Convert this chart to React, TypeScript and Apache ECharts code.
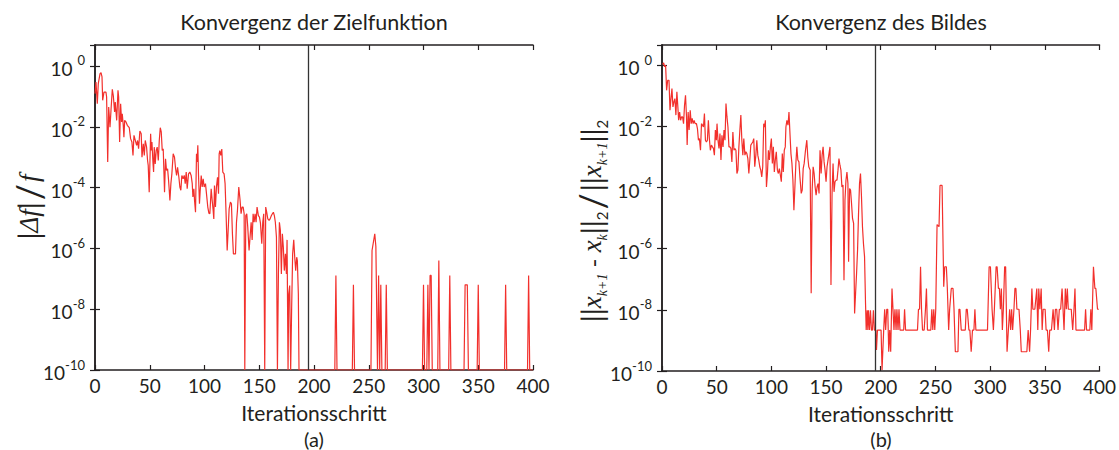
import React, { useEffect, useRef } from "react";
import * as echarts from "echarts";

// ---------- data ----------
const titles = ["Konvergenz der Zielfunktion", "Konvergenz des Bildes"];
const xAxisName = "Iterationsschritt";
const panelTags = ["(a)", "(b)"];
const cutIteration = 195;

// left panel: iteration and log10(|Δf|/f); -10 marks values at/below the axis floor
const leftIter = [
  0, 0.9, 2.1, 3, 4.6, 5.5, 6.4, 7, 8.2, 10, 10.6, 11.6, 12.5, 13.7, 14.6, 15.8, 16.7, 17.9, 18.5, 19.8,
  21, 21.6, 22.5, 23.4, 24.3, 24.9, 25.8, 26.4, 27.1, 28.3, 29.5, 31.3, 32.5, 33.7, 34.7, 35.6, 36.8, 38, 38.9, 39.8,
  41, 42.2, 42.9, 44.1, 45, 45.9, 47.1, 48, 48.6, 49.5, 50.8, 51.4, 52, 52.9, 53.5, 54.1, 55, 55.9, 56.8, 57.8,
  58.7, 59.6, 60.5, 61.4, 62.3, 63.5, 64.4, 65.3, 66.3, 67.2, 67.8, 68.4, 69.3, 70.2, 71.4, 72.6, 73.6, 74.5, 75.4, 76.6,
  77.5, 78.4, 79.3, 80.5, 81.5, 82.4, 83.3, 84.2, 85.4, 86.6, 87.8, 88.8, 89.4, 90.3, 90.9, 91.8, 92.7, 93.3, 93.9, 94.5,
  95.4, 96, 97, 97.9, 98.8, 99.7, 100.9, 101.8, 103, 104, 104.9, 106.1, 107, 107.9, 108.5, 109.1, 110, 110.9, 111.9, 112.8,
  113.4, 114, 114.9, 115.8, 116.7, 117.9, 118.8, 119.8, 120.7, 121.6, 122.5, 123.7, 124.6, 125.5, 126.4, 128.3, 129.2, 130.1, 131.3, 132.5,
  133.4, 134.3, 135.3, 136.2, 136.8, 137.7, 138.6, 139.5, 140.7, 141.6, 142.6, 143.5, 144.4, 145.3, 146.2, 147.1, 148, 149.2, 150.2, 151.1,
  152.3, 153.2, 154.1, 155, 155.9, 156.8, 157.8, 159, 159.9, 161.1, 162, 162.9, 163.8, 164.7, 165.7, 166.6, 167.5, 168.4, 169.3, 170.2,
  171.1, 172, 172.9, 173.9, 174.8, 175.4, 176.3, 176.9, 177.8, 178.7, 179.6, 180.5, 181.5, 182.4, 183.3, 184.2, 184.8, 185.7, 186.3,
  219, 220, 221, 235, 236, 237, 252, 253, 255.5, 256.5, 257, 258, 259, 260, 261, 262, 265, 266, 267,
  299, 300, 301, 303, 304, 305, 306, 307, 308, 313, 314, 315, 323, 324, 325, 337, 338, 340, 341,
  349, 350, 351, 374, 375, 376, 395, 396, 397, 400,
];
const leftExp = [
  -0.91, -0.53, -1.24, -0.58, -0.25, -0.22, -0.36, -1.13, -0.86, -0.86, -1.02, -3.16, -1.35, -2.01, -1.46, -0.77, -0.97, -1.51, -1.19, -1.79,
  -0.8, -1.02, -2.5, -1.24, -1.84, -1.57, -1.95, -2.34, -1.79, -1.84, -1.95, -2.03, -2.39, -2.5, -2.94, -2.28, -2.45, -2.61, -2.45, -2.72,
  -2.14, -2.23, -3.0, -2.56, -2.94, -2.45, -2.67, -3.11, -3.27, -4.15, -2.23, -2.78, -2.5, -3.16, -3.49, -2.67, -3.22, -2.78, -2.67, -3.11,
  -2.45, -2.03, -2.17, -2.78, -2.72, -4.15, -3.05, -3.44, -3.38, -3.77, -4.09, -4.42, -3.87, -3.55, -2.89, -3.0, -3.38, -3.6, -3.33, -3.66,
  -3.98, -4.09, -3.6, -3.71, -3.6, -3.87, -3.49, -4.04, -3.55, -3.49, -3.6, -3.87, -4.31, -4.04, -4.42, -4.81, -2.89, -3.16, -2.61, -3.55,
  -4.53, -4.15, -3.6, -3.98, -3.71, -3.98, -3.87, -4.2, -4.64, -4.84, -4.86, -4.04, -4.42, -4.75, -5.03, -3.93, -4.64, -3.98, -3.66, -4.2,
  -2.89, -2.78, -2.94, -2.73, -3.49, -3.55, -3.87, -4.97, -6.07, -5.41, -4.7, -4.48, -4.53, -5.52, -6.18, -6.18, -5.14, -4.75, -3.98, -4.42,
  -4.86, -4.64, -4.64, -4.86, -10, -4.92, -4.86, -5.3, -6.07, -5.63, -5.14, -5.72, -4.86, -5.14, -4.86, -5.14, -4.64, -4.92, -4.97, -5.17,
  -5.85, -5.14, -4.86, -10, -4.64, -4.81, -5.03, -5.08, -5.03, -4.92, -4.86, -4.81, -4.92, -5.14, -5.63, -10, -6.84, -5.14, -5.41, -6.84,
  -5.52, -5.96, -6.73, -6.18, -6.84, -5.72, -10, -7.5, -7.22, -10, -7.94, -6.18, -5.72, -6.29, -6.73, -6.29, -6.4, -7.5, -10,
  -10, -6.89, -10, -10, -7.2, -10, -10, -6.07, -5.52, -5.94, -5.94, -10, -6.89, -10, -7.2, -10, -10, -7.2, -10,
  -10, -7.2, -10, -10, -7.2, -10, -6.89, -6.89, -10, -10, -6.4, -10, -10, -6.89, -10, -10, -7.2, -7.2, -10,
  -10, -7.2, -10, -10, -7.2, -10, -10, -6.89, -10, -10,
];

// right panel: iteration and log10(||x_{k+1}-x_k||_2 / ||x_{k+1}||_2)
const rightIter = [
  0.6, 1.5, 2.4, 3.3, 4.2, 5.2, 6.4, 7.3, 8.2, 9.1, 10, 10.9, 11.8, 12.7, 13.6, 14.5, 15.2, 16.1, 17, 17.9,
  18.8, 19.7, 20.6, 21.5, 22.4, 23, 23.9, 24.8, 25.8, 26.7, 27.6, 28.5, 29.4, 30.3, 31.5, 32.4, 33.3, 34.2, 35.2, 36.1,
  37, 37.9, 38.8, 39.7, 40.6, 41.5, 42.4, 43.3, 44.2, 45.2, 46.1, 47, 47.9, 48.8, 49.7, 50.3, 51.2, 52.1, 53, 53.9,
  54.8, 55.8, 56.7, 57.6, 58.5, 59.4, 60.3, 61.2, 62.1, 63, 63.9, 64.8, 65.8, 66.7, 67.6, 68.5, 69.4, 70.3, 71.2, 72.1,
  73, 73.9, 74.8, 75.8, 76.7, 77.6, 78.5, 79.4, 80.3, 81.2, 82.1, 83, 83.9, 84.8, 85.8, 86.7, 87.6, 88.5, 89.4, 90.3,
  91.2, 92.1, 93, 93.9, 94.5, 95.5, 96.4, 97.3, 98.2, 99.1, 100, 100.9, 101.8, 102.7, 103.6, 104.5, 105.5, 106.4, 107.3, 108.2,
  109.1, 110, 110.9, 111.8, 112.7, 113.3, 114.2, 115.2, 116.1, 117, 117.9, 118.8, 119.7, 120.6, 121.5, 122.4, 123.3, 124.2, 125.2, 126.1,
  127.3, 128.2, 129.1, 130, 131.2, 132.4, 133.3, 134.2, 135.5, 136.4, 137.3, 138.2, 139.1, 140, 140.9, 141.8, 142.7, 143.6, 144.5, 145.5,
  146.4, 147.3, 148.2, 149.1, 150, 150.9, 151.8, 152.7, 153.6, 154.5, 155.5, 156.4, 157.3, 158.2, 159.1, 160, 160.9, 161.8, 162.7, 163.6,
  164.5, 165.5, 166.4, 167.3, 168.2, 169.1, 170, 170.6, 171.5, 172.4, 173.3, 174.2, 175.2, 176.1, 177, 177.9, 178.8, 179.7, 180.6, 181.5,
  182.4, 183.3, 184.2, 185.2, 186.1, 186.7, 187.6, 188.2, 188.8, 189.7, 190.6, 191.5, 192.4, 193.3, 194.2, 195.5, 196.1, 197, 197.9, 200.3,
  201.2, 202.7, 203.6, 204.5, 205.5, 206.4, 207.3, 208.2, 209.1, 210.3, 211.2, 212.1, 213, 214, 214.8, 215.8, 216.7, 217.6, 221, 221.8,
  222.7, 233.6, 234.5, 235.5, 236.4, 237.3, 238.2, 239.7, 240.9, 241.8, 242.7, 245.8, 246.7, 247.6, 248.5, 249.4, 250.3, 251.5, 253.3, 254.2,
  256.1, 257.6, 258.5, 260, 260.9, 262.1, 263, 264.5, 266.1, 267, 268.2, 270.6, 271.5, 272.4, 273.6, 277.3, 278.2, 279.1, 280.6, 281.5,
  282.7, 283.9, 285.2, 286.1, 287, 297.6, 299.1, 300.3, 301.8, 303, 303.9, 305.5, 306.4, 307.6, 308.5, 309.4, 310.3, 311.2, 312.1, 313.3,
  314.2, 315.5, 316.7, 317.9, 318.8, 319.7, 320.6, 321.8, 322.7, 323.6, 324.5, 326.4, 327.6, 328.5, 333.6, 334.8, 336.1, 337, 338.2, 339.1,
  340.9, 342.7, 343.6, 344.5, 345.5, 346.7, 347.6, 348.5, 350.3, 351.2, 352.4, 353.6, 354.5, 356.1, 357.6, 358.8, 359.7, 360.9, 362.1, 363.3,
  364.5, 365.8, 366.7, 367.6, 368.8, 369.7, 370.6, 371.5, 374.2, 375.5, 376.7, 377.6, 378.5, 386.4, 387.3, 388.2, 391.2, 392.1, 393, 394.5,
  395.8, 396.7, 398.2, 399.4,
];
const rightExp = [
  0.03, 0.08, -0.05, 0, -0.82, -0.49, -0.49, -1.47, -1.09, -0.76, -1.36, -1.2, -1.09, -1.63, -0.87, -1.36, -1.8, -1.53, -1.8, -1.69,
  -1.69, -1.91, -1.31, -0.98, -1.69, -2.61, -1.53, -2.12, -1.47, -1.91, -1.74, -1.91, -1.8, -1.91, -1.91, -2.07, -2.45, -2.4, -2.78, -1.91,
  -1.96, -2.02, -1.58, -2.45, -2.51, -2.45, -1.8, -2.4, -2.78, -2.61, -2.67, -2.72, -2.94, -2.12, -2.45, -1.91, -2.45, -2.72, -2.23, -3.1,
  -2.29, -2.67, -2.12, -2.45, -1.25, -1.69, -2.02, -2.67, -2.67, -2.72, -3.16, -2.18, -2.78, -2.72, -2.78, -3.54, -3.43, -2.67, -2.12, -1.63,
  -2.45, -2.94, -2.4, -2.94, -2.83, -2.89, -3.05, -3.54, -3.1, -2.61, -2.56, -2.51, -2.4, -3.32, -2.94, -2.45, -2.94, -3.1, -3.32, -3.43,
  -3.65, -3.32, -1.91, -2.02, -1.8, -3.98, -3.54, -2.78, -3.1, -2.67, -2.4, -3.21, -2.67, -3.49, -3.1, -2.83, -3.43, -3.54, -3.38, -3.59,
  -3.81, -2.89, -3.49, -2.78, -2.67, -2.02, -1.8, -1.96, -1.53, -2.23, -2.89, -3.21, -3.76, -4.74, -3.98, -3.21, -2.67, -3.1, -3.16, -3.65,
  -4.19, -4.08, -3.38, -3.21, -2.78, -2.45, -3.0, -3.32, -3.43, -7.46, -4.08, -3.32, -3.54, -3.98, -4.25, -3.98, -3.87, -4.19, -2.78, -3.54,
  -2.94, -2.67, -3.16, -3.43, -3.81, -3.32, -3.1, -2.89, -2.67, -7.19, -4.19, -3.21, -4.14, -3.81, -3.76, -3.76, -3.43, -3.05, -3.27, -3.43,
  -3.98, -3.92, -7.03, -4.41, -3.76, -3.49, -3.87, -6.43, -4.03, -4.08, -4.52, -5.01, -5.17, -8.12, -7.46, -6.81, -6.05, -4.85, -3.87, -3.54,
  -4.3, -5.28, -5.83, -6.26, -7.79, -8.66, -8.01, -8.66, -8.01, -8.66, -8.01, -8.66, -8.66, -8.01, -8.66, -8.66, -9.31, -8.66, -8.66, -8.66,
  -9.97, -8.66, -7.98, -8.66, -7.98, -7.98, -9.37, -8.66, -9.37, -7.3, -7.98, -8.66, -7.98, -8.66, -7.98, -8.66, -7.98, -8.66, -8.66, -7.98,
  -8.66, -8.66, -7.98, -7.98, -6.59, -7.98, -8.66, -8.66, -7.98, -7.3, -8.66, -8.66, -7.98, -8.66, -7.98, -8.66, -7.98, -5.21, -5.28, -3.93,
  -3.93, -7.24, -6.59, -6.59, -7.3, -8.66, -7.98, -7.3, -7.3, -7.98, -9.37, -9.37, -7.98, -7.98, -8.66, -8.66, -7.98, -7.98, -8.66, -8.66,
  -9.37, -8.66, -8.66, -7.98, -8.66, -8.66, -6.59, -6.59, -7.98, -8.66, -7.98, -6.59, -6.59, -7.3, -7.3, -7.98, -7.3, -8.66, -7.98, -6.59,
  -6.59, -9.37, -8.66, -7.98, -8.66, -7.98, -8.66, -7.98, -7.3, -7.3, -7.98, -7.98, -8.66, -9.37, -9.37, -8.66, -9.37, -8.66, -7.3, -7.98,
  -7.98, -7.3, -8.66, -7.3, -7.98, -7.3, -8.66, -7.98, -7.98, -8.66, -8.66, -9.37, -8.66, -8.66, -7.98, -8.66, -7.98, -7.98, -8.66, -7.98,
  -7.98, -7.3, -7.98, -8.66, -7.3, -7.98, -7.3, -7.98, -7.98, -8.66, -7.98, -7.3, -8.66, -8.66, -7.98, -8.66, -8.66, -7.98, -8.66, -6.59,
  -7.3, -7.3, -7.98, -7.98,
];

// ---------- styling ----------
const FONT = "Lato, 'Open Sans', sans-serif";
const SERIF = "'Liberation Serif', 'DejaVu Serif', serif";
const TXT = "#231f20";
const RED = "#f2302c";
const AXIS = "#231f20";

const toPairs = (xs: number[], es: number[]) => xs.map((x, i) => [x, Math.pow(10, es[i])]);

const powLabel = (v: number) => {
  const e = Math.log10(v);
  const r = Math.round(e);
  if (Math.abs(e - r) > 1e-6) return "";
  return r === 0 ? `{n|10}{z|0}` : `{n|10}{s|${r}}`;
};

const tickRich = {
  n: { fontSize: 19, fontFamily: FONT, color: TXT, lineHeight: 24, verticalAlign: "bottom" },
  s: { fontSize: 13, fontFamily: FONT, color: TXT, lineHeight: 13, verticalAlign: "top" },
  z: { fontSize: 13, fontFamily: FONT, color: TXT, lineHeight: 13, verticalAlign: "top", padding: [0, 0, 0, 5] },
};

const xAx = (gridIndex: number, position: string, main: boolean) => ({
  type: "value",
  gridIndex,
  position,
  min: 0,
  max: 400,
  interval: 50,
  axisLine: { show: true, onZero: false, lineStyle: { color: AXIS, width: 1.5 } },
  axisTick: { show: true, inside: true, length: 5, lineStyle: { color: AXIS, width: 1.2 } },
  axisLabel: { show: main, fontSize: 19, fontFamily: FONT, color: TXT, margin: 6 },
  splitLine: { show: false },
  name: main ? xAxisName : "",
  nameLocation: "middle",
  nameGap: 32,
  nameTextStyle: { fontSize: 21, fontFamily: FONT, color: TXT },
});

const yAx = (gridIndex: number, position: string, main: boolean, max: number) => ({
  type: "log",
  logBase: 10,
  gridIndex,
  position,
  min: 1e-10,
  max,
  interval: 2,
  axisLine: { show: true, lineStyle: { color: AXIS, width: 1.5 } },
  axisTick: { show: true, inside: true, length: 5, lineStyle: { color: AXIS, width: 1.2 } },
  axisLabel: { show: main, formatter: powLabel, rich: tickRich, margin: 10, showMaxLabel: false },
  splitLine: { show: false },
  minorTick: { show: false },
});

const lineSeries = (idx: number, data: number[][]) => ({
  type: "line",
  xAxisIndex: idx * 2,
  yAxisIndex: idx * 2,
  data,
  symbol: "none",
  showSymbol: false,
  lineStyle: { color: RED, width: 1.2 },
  z: 3,
  markLine: {
    silent: true,
    symbol: ["none", "none"],
    label: { show: false },
    lineStyle: { color: "#333", width: 1.3, type: "solid" },
    data: [{ xAxis: cutIteration }],
  },
});

const textStyle = (text: string, size: number) => ({
  text,
  fill: TXT,
  fontSize: size,
  fontFamily: FONT,
  align: "center",
  verticalAlign: "middle",
});

const labelRich = {
  b: { fontSize: 28, fontFamily: FONT, color: TXT, lineHeight: 34, verticalAlign: "middle" },
  i: { fontSize: 27, fontFamily: SERIF, fontStyle: "italic", color: TXT, lineHeight: 34, verticalAlign: "middle" },
  sl: { fontSize: 36, fontFamily: FONT, color: TXT, lineHeight: 34, verticalAlign: "middle", padding: [0, 2, 0, 2] },
  m: { fontSize: 24, fontFamily: FONT, color: TXT, lineHeight: 34, verticalAlign: "middle" },
  sub: { fontSize: 14, fontFamily: SERIF, fontStyle: "italic", color: TXT, lineHeight: 13, verticalAlign: "bottom" },
  sub2: { fontSize: 15, fontFamily: FONT, color: TXT, lineHeight: 13, verticalAlign: "bottom" },
};

const option = {
  animation: false,
  backgroundColor: "#ffffff",
  grid: [
    { left: 95, top: 45, width: 438, height: 325, containLabel: false },
    { left: 662, top: 45, width: 439, height: 326, containLabel: false },
  ],
  xAxis: [xAx(0, "bottom", true), xAx(0, "top", false), xAx(1, "bottom", true), xAx(1, "top", false)],
  yAxis: [yAx(0, "left", true, 4.9), yAx(0, "right", false, 4.9), yAx(1, "left", true, 4.6), yAx(1, "right", false, 4.6)],
  series: [lineSeries(0, toPairs(leftIter, leftExp)), lineSeries(1, toPairs(rightIter, rightExp))],
  graphic: [
    { type: "text", x: 314, y: 22, style: textStyle(titles[0], 21.5) },
    { type: "text", x: 881, y: 22, style: textStyle(titles[1], 21.5) },
    { type: "text", x: 314, y: 439, style: textStyle(panelTags[0], 20) },
    { type: "text", x: 881, y: 439, style: textStyle(panelTags[1], 20) },
    {
      type: "text",
      x: 29,
      y: 207,
      rotation: Math.PI / 2,
      style: {
        text: "{b||}{i|Δf}{b||}{sl|/}{i|f}",
        rich: labelRich,
        align: "center",
        verticalAlign: "middle",
        fill: TXT,
      },
    },
    {
      type: "text",
      x: 592,
      y: 221,
      rotation: Math.PI / 2,
      style: {
        text: "{b|||}{i|x}{sub|k+1}{m| - }{i|x}{sub|k}{b|||}{sub2|2}{sl|/}{b|||}{i|x}{sub|k+1}{b|||}{sub2|2}",
        rich: labelRich,
        align: "center",
        verticalAlign: "middle",
        fill: TXT,
      },
    },
  ],
};

export default function App() {
  const ref = useRef<HTMLDivElement>(null);
  useEffect(() => {
    if (!ref.current) return;
    const chart = echarts.init(ref.current, null, { renderer: "svg" });
    chart.setOption(option as any);
    return () => chart.dispose();
  }, []);
  return (
    <div
      ref={ref}
      style={{ position: "fixed", left: 0, top: 0, width: 1119, height: 450, background: "#fff" }}
    />
  );
}
